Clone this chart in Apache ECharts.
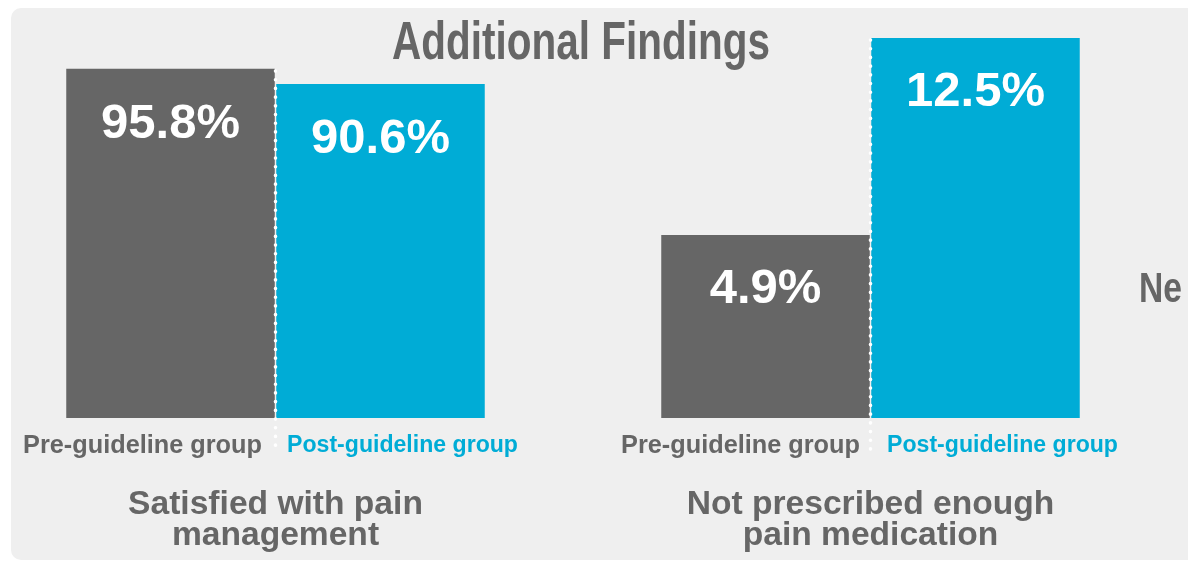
<!DOCTYPE html>
<html><head><meta charset="utf-8">
<script src="https://cdn.jsdelivr.net/npm/echarts@6/dist/echarts.min.js"></script>
<style>html,body{margin:0;padding:0;background:#fff}#c{width:1188px;height:563px}</style>
</head><body><div id="c"></div>
<script>
// ---- data ----
const chartTitle = 'Additional Findings';
const groupLabels = ['Pre-guideline group', 'Post-guideline group'];
const satisfiedValues = [95.8, 90.6];
const notEnoughValues = [4.9, 12.5];
const panelTitles = ['Satisfied with pain\nmanagement', 'Not prescribed enough\npain medication'];
const nextPanelTitle = 'Ne';

// ---- styles / layout ----
const FONT = '"Liberation Sans", Arial, sans-serif';
const GRAY = '#666666', CYAN = '#00acd6', TEXT = '#666666';
const barColors = [GRAY, CYAN];
// the infographic's bars are not drawn from zero: each panel's value axis is
// shifted by a base offset (axis units) so the relative heights match the original
const panelBase = [25.2, 2.16];
const panelMax = [131.7, 14.66];
const labelPad = [[56, 44], [50, 54]];
const labelDist = [31, 29];

const chart = echarts.init(document.getElementById('c'), null, {renderer: 'canvas'});

function xAxisFor(gi) {
  return {
    type: 'category', gridIndex: gi, data: groupLabels,
    axisLine: {show: false}, axisTick: {show: false}, splitLine: {show: false},
    axisLabel: {
      interval: 0, hideOverlap: false, margin: 15,
      fontFamily: FONT, fontWeight: 'bold', fontSize: 25,
      formatter: (v, i) => i === 0 ? '{pre|' + v + '}' : '{post|' + v + '}',
      rich: {
        pre: {color: TEXT, fontFamily: FONT, fontWeight: 'bold', fontSize: 25.3, lineHeight: 26, padding: [0, labelPad[gi][0], 0, 0]},
        post: {color: CYAN, fontFamily: FONT, fontWeight: 'bold', fontSize: 23.1, lineHeight: 26, padding: [0, 0, 0, labelPad[gi][1]]}
      }
    },
    name: panelTitles[gi], nameLocation: 'middle', nameGap: 71,
    nameTextStyle: {color: TEXT, fontFamily: FONT, fontWeight: 'bold', fontSize: 33.6, lineHeight: 31, align: 'center'}
  };
}

function seriesFor(gi, values) {
  return {
    type: 'bar', name: 'panel' + gi, xAxisIndex: gi, yAxisIndex: gi, barWidth: 208.5,
    data: values.map((v, i) => ({value: v + panelBase[gi], itemStyle: {color: barColors[i]}})),
    label: {
      show: true, position: 'insideTop', distance: labelDist[gi], color: '#fff',
      fontFamily: FONT, fontWeight: 'bold', fontSize: 49, lineHeight: 50,
      formatter: p => values[p.dataIndex].toFixed(1) + '%'
    },
    emphasis: {disabled: true}
  };
}

const option = {
  backgroundColor: '#ffffff',
  animation: false,
  grid: [
    {left: 65.5, width: 420, top: 38, height: 380, outerBoundsMode: 'none', containLabel: false},
    {left: 660.5, width: 420, top: 38, height: 380, outerBoundsMode: 'none', containLabel: false}
  ],
  xAxis: [xAxisFor(0), xAxisFor(1)],
  yAxis: [
    {type: 'value', gridIndex: 0, min: 0, max: panelMax[0], show: false, splitLine: {show: false}},
    {type: 'value', gridIndex: 1, min: 0, max: panelMax[1], show: false, splitLine: {show: false}}
  ],
  series: [seriesFor(0, satisfiedValues), seriesFor(1, notEnoughValues)],
  graphic: [
    {type: 'rect', z: -10, shape: {x: 11, y: 8, width: 1220, height: 552, r: 10}, style: {fill: '#efefef'}, silent: true},
    {type: 'text', z: 50, x: 581, y: 44, scaleX: 0.764, style: {text: chartTitle, fill: TEXT, font: 'bold 53px ' + FONT, textAlign: 'center', textVerticalAlign: 'middle'}, silent: true},
    {type: 'line', z: 100, shape: {x1: 275.5, y1: 71, x2: 275.5, y2: 450}, style: {stroke: '#fff', lineWidth: 3.6, lineDash: [0.1, 8.6], lineCap: 'round'}, silent: true},
    {type: 'line', z: 100, shape: {x1: 870.5, y1: 40, x2: 870.5, y2: 450}, style: {stroke: '#fff', lineWidth: 3.6, lineDash: [0.1, 8.6], lineCap: 'round'}, silent: true},
    {type: 'text', z: 50, x: 1139, y: 290, scaleX: 0.8, style: {text: nextPanelTitle, fill: TEXT, font: 'bold 42px ' + FONT, textVerticalAlign: 'middle'}, silent: true}
  ]
};
chart.setOption(option);
</script>
</body></html>
